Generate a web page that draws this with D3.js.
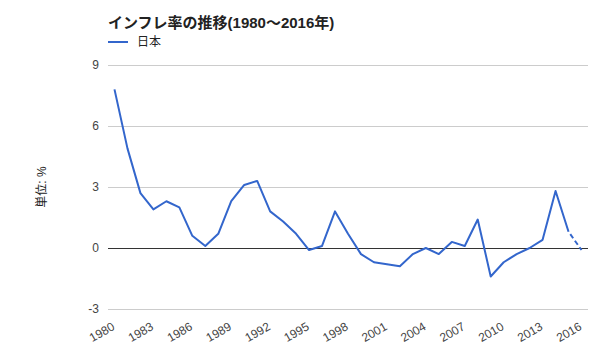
<!DOCTYPE html>
<html>
<head>
<meta charset="utf-8">
<script src="https://cdn.jsdelivr.net/npm/d3@7"></script>
<style>
  body { margin: 0; background: #fff; }
  svg { display: block; font-family: Arial, "Liberation Sans", "Noto Sans CJK JP", sans-serif; }
</style>
</head>
<body>
<script>
const years = d3.range(1980, 2017);
const inflation = [
    7.8, 4.9, 2.7, 1.9, 2.3, 2.0, 0.6, 0.1, 0.7, 2.3,
    3.1, 3.3, 1.8, 1.3, 0.7, -0.1, 0.1, 1.8, 0.7, -0.3,
    -0.7, -0.8, -0.9, -0.3, 0.0, -0.3, 0.3, 0.1, 1.4, -1.4,
    -0.7, -0.3, 0.0, 0.4, 2.8, 0.8, -0.1
];
// last value is an estimate (drawn dashed)
const estimateFrom = 2015;
const yTicks = [-3, 0, 3, 6, 9];
const xTickYears = d3.range(1980, 2017, 3);
const seriesName = "日本";
const titleText = "インフレ率の推移(1980～2016年)";
const yTitle = "単位: %";

const width = 600;
const height = 360;
const marginLeft = 108;
const marginRight = 12;
const marginTop = 65;
const marginBottom = 51;

const data = years.map((y, i) => ({ year: y, value: inflation[i] }));

const x = d3.scaleBand()
    .domain(years)
    .range([marginLeft, width - marginRight]);
const cx = d => x(d) + x.bandwidth() / 2;

const y = d3.scaleLinear()
    .domain([-3, 9])
    .range([height - marginBottom, marginTop]);

const svg = d3.select("body").append("svg")
    .attr("width", width)
    .attr("height", height);

// gridlines
svg.append("g")
    .selectAll("line")
    .data(yTicks)
    .join("line")
    .attr("x1", marginLeft)
    .attr("x2", width - marginRight)
    .attr("y1", d => y(d) + 0.5)
    .attr("y2", d => y(d) + 0.5)
    .attr("stroke", d => d === 0 ? "#333" : "#ccc")
    .attr("stroke-width", 1);

// y tick labels
svg.append("g")
    .selectAll("text")
    .data(yTicks)
    .join("text")
    .attr("x", marginLeft - 9)
    .attr("y", d => y(d))
    .attr("dy", "0.35em")
    .attr("text-anchor", "end")
    .attr("fill", "#444")
    .style("font-size", "12px")
    .text(d => d);

// x tick labels
svg.append("g")
    .selectAll("text")
    .data(xTickYears)
    .join("text")
    .attr("transform", d => `translate(${cx(d) + 1},${height - marginBottom + 20}) rotate(-30)`)
    .attr("text-anchor", "end")
    .attr("fill", "#444")
    .style("font-size", "12px")
    .text(d => d);

// y axis title
svg.append("text")
    .attr("transform", `translate(42,${(y(9) + y(-3)) / 2}) rotate(-90)`)
    .attr("text-anchor", "middle")
    .attr("dy", "0.35em")
    .attr("fill", "#222")
    .style("font-size", "12px")
    .text(yTitle);

// line
const line = d3.line()
    .x(d => cx(d.year))
    .y(d => y(d.value));

svg.append("path")
    .datum(data.filter(d => d.year <= estimateFrom))
    .attr("fill", "none")
    .attr("stroke", "#3366cc")
    .attr("stroke-width", 2)
    .attr("stroke-linejoin", "round")
    .attr("d", line);

svg.append("path")
    .datum(data.filter(d => d.year >= estimateFrom))
    .attr("fill", "none")
    .attr("stroke", "#3366cc")
    .attr("stroke-width", 2)
    .attr("stroke-dasharray", "5,3")
    .attr("stroke-dashoffset", 5)
    .attr("d", line);

// title
svg.append("text")
    .attr("x", marginLeft)
    .attr("y", 28)
    .attr("fill", "#222")
    .style("font-size", "15px")
    .style("font-weight", "bold")
    .text(titleText);

// legend
svg.append("line")
    .attr("x1", marginLeft)
    .attr("x2", marginLeft + 20)
    .attr("y1", 42)
    .attr("y2", 42)
    .attr("stroke", "#3366cc")
    .attr("stroke-width", 2);

svg.append("text")
    .attr("x", marginLeft + 29)
    .attr("y", 42)
    .attr("dy", "0.35em")
    .attr("fill", "#222")
    .style("font-size", "12px")
    .text(seriesName);
</script>
</body>
</html>
